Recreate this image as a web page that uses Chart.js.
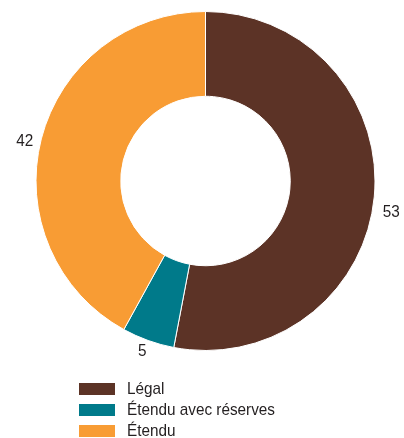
<!DOCTYPE html>
<html>
<head>
<meta charset="utf-8">
<script src="https://cdn.jsdelivr.net/npm/chart.js@4/dist/chart.umd.min.js"></script>
<style>
  html, body { margin: 0; padding: 0; background: #fff; }
  body { width: 404px; height: 438px; position: relative; overflow: hidden;
         font-family: "Liberation Sans", Arial, sans-serif; }
  #chart { position: absolute; left: 0; top: 0; }
  #legend { position: absolute; left: 79px; top: 378px; margin: 0; padding: 0; list-style: none; }
  #legend li { height: 21px; display: flex; align-items: center; font-size: 17px; color: #231f20; white-space: nowrap; }
  #legend .swatch { width: 36px; height: 12px; margin-right: 12px; flex: none; }
  /* condensed look: no narrow face installed, so squeeze the regular one */
  #legend .name { display: inline-block; transform: scaleX(0.9); transform-origin: left center; }
</style>
</head>
<body>
<canvas id="chart" width="404" height="438"></canvas>
<ul id="legend"></ul>
<script>
const categories = ['Légal', 'Étendu avec réserves', 'Étendu'];
const values = [53, 5, 42];
const colors = ['#5c3326', '#007a8a', '#f89c34'];

// vertical nudge for each outside value label, same order as values
const labelNudge = [14, -5, 7];

const outsideLabels = {
  id: 'outsideLabels',
  afterDatasetsDraw: (chart) => {
    const { ctx } = chart;
    const meta = chart.getDatasetMeta(0);
    meta.data.forEach((arc, i) => {
      const { x, y, startAngle, endAngle, outerRadius } = arc.getProps(['x', 'y', 'startAngle', 'endAngle', 'outerRadius'], true);
      const mid = (startAngle + endAngle) / 2;
      const r = outerRadius + 17;
      ctx.save();
      ctx.translate(x + Math.cos(mid) * r, y + Math.sin(mid) * r + labelNudge[i]);
      ctx.scale(0.9, 1);
      ctx.font = '17px "Liberation Sans", Arial, sans-serif';
      ctx.fillStyle = '#231f20';
      ctx.textAlign = 'center';
      ctx.textBaseline = 'middle';
      ctx.fillText(String(values[i]), 0, 0);
      ctx.restore();
    });
  },
};

new Chart(document.getElementById('chart').getContext('2d'), {
  type: 'doughnut',
  data: {
    labels: categories,
    datasets: [{
      data: values,
      backgroundColor: colors,
      borderColor: '#ffffff',
      borderWidth: 1,
    }],
  },
  options: {
    responsive: false,
    animation: false,
    cutout: '50%',
    layout: {
      // ring sits in the top part, the legend below it
      padding: { top: 11, bottom: 87, left: 7, right: 0 },
    },
    plugins: {
      legend: { display: false },
      tooltip: { enabled: false },
    },
  },
  plugins: [outsideLabels],
});

const legend = document.getElementById('legend');
categories.forEach((name, i) => {
  const li = document.createElement('li');
  const sw = document.createElement('span');
  sw.className = 'swatch';
  sw.style.background = colors[i];
  const txt = document.createElement('span');
  txt.className = 'name';
  txt.textContent = name;
  li.appendChild(sw);
  li.appendChild(txt);
  legend.appendChild(li);
});
</script>
</body>
</html>
